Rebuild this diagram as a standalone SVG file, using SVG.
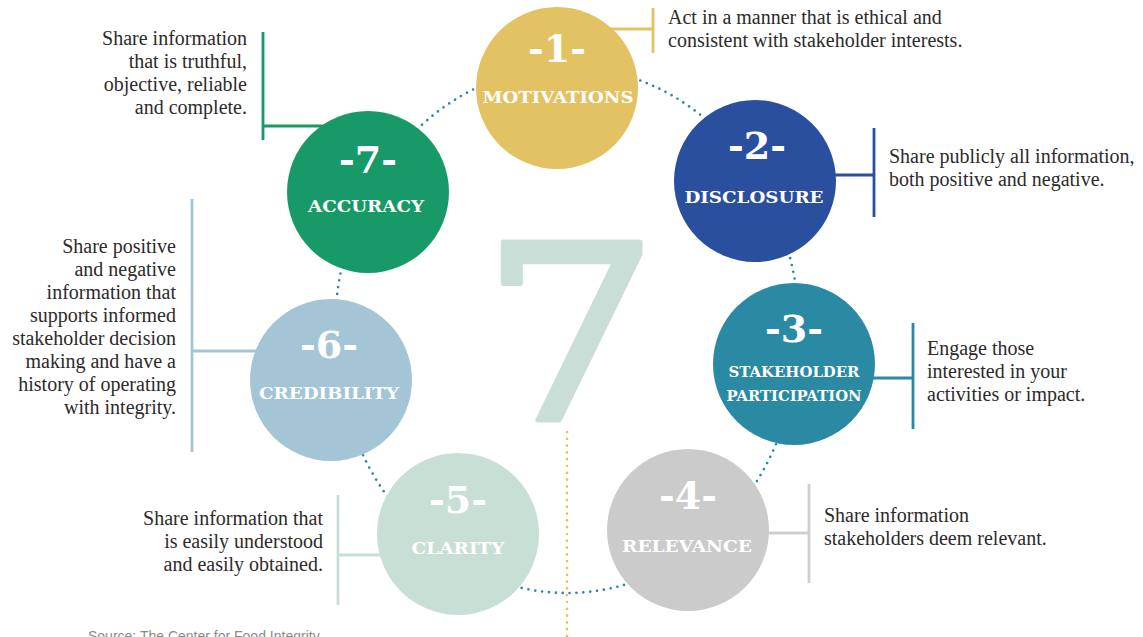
<svg xmlns="http://www.w3.org/2000/svg" width="1143" height="637" viewBox="0 0 1143 637">
  <style>
    .num { font-family: "DejaVu Serif", "Liberation Serif", serif; font-weight: bold; font-size: 38px; fill: #ffffff; text-anchor: middle; }
    .lbl { font-family: "DejaVu Serif", "Liberation Serif", serif; font-weight: bold; font-size: 17px; fill: #ffffff; text-anchor: middle; }
    .lbl-sm { font-size: 15px; }
    .desc { font-family: "Liberation Serif", "DejaVu Serif", serif; font-size: 20px; fill: #2d2a2b; }
    .desc-r { text-anchor: end; }
    .lead { fill: none; stroke-width: 2.8; }
    .ring { fill: none; stroke: #2b8aa3; stroke-width: 2.7; stroke-linecap: round; stroke-dasharray: 0 6.9; }
    .axis { fill: none; stroke: #e4c15e; stroke-width: 2.7; stroke-linecap: round; stroke-dasharray: 0 6.8; }
    .src { font-family: "Liberation Sans", "DejaVu Sans", sans-serif; font-size: 14px; fill: #8a8a8a; }
  </style>
  <rect width="1143" height="637" fill="#ffffff"/>

  <!-- large background numeral, widened -->
  <text transform="translate(570 420) scale(1.16 1)" x="0" y="0" font-family="DejaVu Serif, Liberation Serif, serif" font-size="244" fill="#c8ded6" stroke="#c8ded6" stroke-width="5" stroke-linejoin="round" text-anchor="middle">7</text>

  <g id="connectors">
    <!-- dotted ring linking the seven principles -->
    <ellipse class="ring" cx="567" cy="330" rx="232" ry="263"/>
    <!-- vertical dotted axis under the numeral -->
    <line class="axis" x1="567" y1="432" x2="567" y2="637"/>
    <!-- leader lines to the descriptions -->
    <path class="lead" stroke="#e3c263" d="M600 29 H653 M653 8 V53"/>
    <path class="lead" stroke="#294f9e" d="M820 175 H874 M874 128 V217"/>
    <path class="lead" stroke="#2b8aa3" d="M860 378 H913 M913 323 V429"/>
    <path class="lead" stroke="#cfcfcf" d="M750 533 H809 M809 484 V583"/>
    <path class="lead" stroke="#c8dfd6" d="M395 555 H338 M338 495 V605"/>
    <path class="lead" stroke="#a3c5d5" d="M270 351 H192 M192 199 V452"/>
    <path class="lead" stroke="#189a68" d="M330 126 H263 M263 32 V140"/>
  </g>

  <g id="node-1">
    <circle cx="557" cy="88" r="81" fill="#e3c263"/>
    <text class="num" x="557" y="62">-1-</text>
    <text class="lbl" x="558" y="103" textLength="151" lengthAdjust="spacingAndGlyphs">MOTIVATIONS</text>
    <text class="desc" x="668" y="24">Act in a manner that is ethical and</text>
    <text class="desc" x="668" y="47">consistent with stakeholder interests.</text>
  </g>

  <g id="node-2">
    <circle cx="755" cy="181" r="81" fill="#294f9e"/>
    <text class="num" x="757" y="159">-2-</text>
    <text class="lbl" x="754" y="203" textLength="139" lengthAdjust="spacingAndGlyphs">DISCLOSURE</text>
    <text class="desc" x="889" y="163">Share publicly all information,</text>
    <text class="desc" x="889" y="186">both positive and negative.</text>
  </g>

  <g id="node-3">
    <circle cx="794" cy="364" r="81" fill="#2b8aa3"/>
    <text class="num" x="794" y="342">-3-</text>
    <text class="lbl lbl-sm" x="794" y="377" textLength="131" lengthAdjust="spacingAndGlyphs">STAKEHOLDER</text>
    <text class="lbl lbl-sm" x="794" y="401" textLength="135" lengthAdjust="spacingAndGlyphs">PARTICIPATION</text>
    <text class="desc" x="927" y="355">Engage those</text>
    <text class="desc" x="927" y="378">interested in your</text>
    <text class="desc" x="927" y="401">activities or impact.</text>
  </g>

  <g id="node-4">
    <circle cx="688" cy="530" r="81" fill="#cbcbcb"/>
    <text class="num" x="688" y="509">-4-</text>
    <text class="lbl" x="687" y="552" textLength="130" lengthAdjust="spacingAndGlyphs">RELEVANCE</text>
    <text class="desc" x="824" y="522">Share information</text>
    <text class="desc" x="824" y="545">stakeholders deem relevant.</text>
  </g>

  <g id="node-5">
    <circle cx="458" cy="534" r="81" fill="#c8dfd6"/>
    <text class="num" x="458" y="513">-5-</text>
    <text class="lbl" x="458" y="554" textLength="93" lengthAdjust="spacingAndGlyphs">CLARITY</text>
    <text class="desc desc-r" x="323" y="525">Share information that</text>
    <text class="desc desc-r" x="323" y="548">is easily understood</text>
    <text class="desc desc-r" x="323" y="571">and easily obtained.</text>
  </g>

  <g id="node-6">
    <circle cx="331" cy="380" r="81" fill="#a3c5d5"/>
    <text class="num" x="329" y="358">-6-</text>
    <text class="lbl" x="329" y="399" textLength="140" lengthAdjust="spacingAndGlyphs">CREDIBILITY</text>
    <text class="desc desc-r" x="176" y="253">Share positive</text>
    <text class="desc desc-r" x="176" y="276">and negative</text>
    <text class="desc desc-r" x="176" y="299">information that</text>
    <text class="desc desc-r" x="176" y="322">supports informed</text>
    <text class="desc desc-r" x="176" y="345">stakeholder decision</text>
    <text class="desc desc-r" x="176" y="368">making and have a</text>
    <text class="desc desc-r" x="176" y="391">history of operating</text>
    <text class="desc desc-r" x="176" y="414">with integrity.</text>
  </g>

  <g id="node-7">
    <circle cx="368" cy="192" r="81" fill="#189a68"/>
    <text class="num" x="368" y="173">-7-</text>
    <text class="lbl" x="366" y="212" textLength="116" lengthAdjust="spacingAndGlyphs">ACCURACY</text>
    <text class="desc desc-r" x="247" y="45">Share information</text>
    <text class="desc desc-r" x="247" y="68">that is truthful,</text>
    <text class="desc desc-r" x="247" y="91">objective, reliable</text>
    <text class="desc desc-r" x="247" y="114">and complete.</text>
  </g>

  <text class="src" x="88" y="641">Source: The Center for Food Integrity</text>
</svg>
